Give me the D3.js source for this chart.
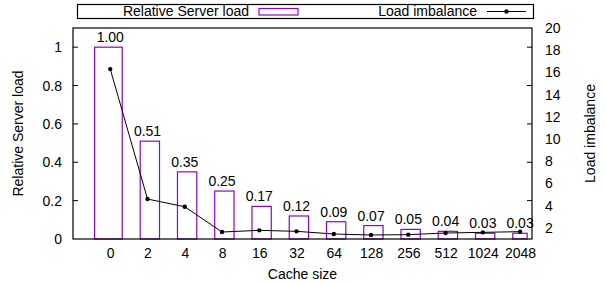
<!DOCTYPE html>
<html>
<head>
<meta charset="utf-8">
<script src="https://cdn.jsdelivr.net/npm/d3@7"></script>
<style>
  body { margin: 0; background: #fff; }
  svg { font-family: "Liberation Sans", Arial, sans-serif; font-size: 14px; }
  .bar { fill: none; stroke: #9400d3; stroke-width: 1.2; }
</style>
</head>
<body>
<svg width="605" height="283"></svg>
<script>
const cacheSizes = ['0', '2', '4', '8', '16', '32', '64', '128', '256', '512', '1024', '2048']
const serverLoad = [1.00, 0.51, 0.35, 0.25, 0.17, 0.12, 0.09, 0.07, 0.05, 0.04, 0.03, 0.03]
const imbalance = [16.3, 4.6, 3.9, 1.63, 1.78, 1.69, 1.45, 1.36, 1.39, 1.54, 1.6, 1.66]
const leftTicks = [0, 0.2, 0.4, 0.6, 0.8, 1]
const rightTicks = [2, 4, 6, 8, 10, 12, 14, 16, 18, 20]

const plot = {left: 73, right: 532, top: 28, bottom: 239}

const svg = d3.select('svg')

const xScale = d3.scaleLinear()
                 .domain([-1, 11.32])
                 .range([plot.left, plot.right])
const yScale = d3.scaleLinear()
                 .domain([0, 1.1])
                 .range([plot.bottom, plot.top])
const y2Scale = d3.scaleLinear()
                  .domain([1, 20])
                  .range([plot.bottom, plot.top])

// bars (gnuplot boxes are a bit lopsided, first and last differ)
const last = cacheSizes.length - 1
const barLeft = i => xScale(i - (i === 0 ? 0.42 : 0.196))
const barRight = i => xScale(i + (i === last ? 0.19 : 0.322))

svg.selectAll('.bar')
   .data(serverLoad)
   .enter()
   .append('rect')
   .classed('bar', true)
   .attr('x', (d, i) => barLeft(i))
   .attr('width', (d, i) => barRight(i) - barLeft(i))
   .attr('y', d => yScale(d))
   .attr('height', d => plot.bottom - yScale(d))

svg.selectAll('.bar-label')
   .data(serverLoad)
   .enter()
   .append('text')
   .attr('text-anchor', 'middle')
   .attr('x', (d, i) => xScale(i))
   .attr('y', d => yScale(d) - 5)
   .text(d => d.toFixed(2))

// imbalance line
const line = d3.line()
               .x((d, i) => xScale(i))
               .y(d => y2Scale(d))

svg.append('path')
   .datum(imbalance)
   .attr('d', line)
   .attr('fill', 'none')
   .attr('stroke', '#000')
   .attr('stroke-width', 1)

svg.selectAll('.pt')
   .data(imbalance)
   .enter()
   .append('circle')
   .attr('cx', (d, i) => xScale(i))
   .attr('cy', d => y2Scale(d))
   .attr('r', 2.2)
   .attr('fill', '#000')

// frame
svg.append('rect')
   .attr('x', plot.left).attr('y', plot.top)
   .attr('width', plot.right - plot.left)
   .attr('height', plot.bottom - plot.top)
   .attr('fill', 'none')
   .attr('stroke', '#000')
   .attr('stroke-width', 1.2)

// left axis, inward ticks mirrored on the right border
const yAxis = d3.axisLeft(yScale)
                .tickValues(leftTicks)
                .tickSize(0)
                .tickPadding(11)
                .tickFormat(d3.format('~g'))
const yAxisG = svg.append('g')
                  .attr('transform', `translate(${plot.left},0)`)
                  .call(yAxis)
yAxisG.select('.domain').remove()
yAxisG.selectAll('text').style('font-size', '14px').style('font-family', 'inherit').attr('fill', '#000')

svg.selectAll('.tick-in')
   .data(leftTicks.filter(d => d > 0))
   .enter()
   .append('g')
   .each(function (d) {
     const g = d3.select(this)
     g.append('line').attr('x1', plot.left).attr('x2', plot.left + 5)
      .attr('y1', yScale(d)).attr('y2', yScale(d)).attr('stroke', '#000')
     g.append('line').attr('x1', plot.right).attr('x2', plot.right - 5)
      .attr('y1', yScale(d)).attr('y2', yScale(d)).attr('stroke', '#000')
   })

// right axis labels (no ticks in the reference)
const y2Axis = d3.axisRight(y2Scale)
                 .tickValues(rightTicks)
                 .tickSize(0)
                 .tickPadding(13)
const y2AxisG = svg.append('g')
                   .attr('transform', `translate(${plot.right},0)`)
                   .call(y2Axis)
y2AxisG.select('.domain').remove()
y2AxisG.selectAll('text').style('font-size', '14px').style('font-family', 'inherit').attr('fill', '#000')

// x labels
const xAxis = d3.axisBottom(xScale)
                .tickValues(d3.range(cacheSizes.length))
                .tickFormat(i => cacheSizes[i])
                .tickSize(0)
                .tickPadding(9)
const xAxisG = svg.append('g')
                  .attr('transform', `translate(0,${plot.bottom})`)
                  .call(xAxis)
xAxisG.select('.domain').remove()
xAxisG.selectAll('text').style('font-size', '14px').style('font-family', 'inherit').attr('fill', '#000')

// axis titles
svg.append('text')
   .attr('x', (plot.left + plot.right) / 2)
   .attr('y', 279)
   .attr('text-anchor', 'middle')
   .text('Cache size')

svg.append('text')
   .attr('transform', `translate(23,${(plot.top + plot.bottom) / 2}) rotate(-90)`)
   .attr('text-anchor', 'middle')
   .text('Relative Server load')

svg.append('text')
   .attr('transform', `translate(595,${(plot.top + plot.bottom) / 2}) rotate(-90)`)
   .attr('text-anchor', 'middle')
   .text('Load imbalance')

// legend
const legend = svg.append('g')
legend.append('rect')
      .attr('x', 77.5).attr('y', 4.5)
      .attr('width', 456).attr('height', 14)
      .attr('fill', 'none')
      .attr('stroke', '#000')
      .attr('stroke-width', 1.2)
legend.append('text')
      .attr('x', 249).attr('y', 16)
      .attr('text-anchor', 'end')
      .text('Relative Server load')
legend.append('rect')
      .classed('bar', true)
      .attr('x', 259).attr('y', 8.5)
      .attr('width', 39).attr('height', 6.5)
legend.append('text')
      .attr('x', 477).attr('y', 16)
      .attr('text-anchor', 'end')
      .text('Load imbalance')
legend.append('line')
      .attr('x1', 487).attr('x2', 526)
      .attr('y1', 11.5).attr('y2', 11.5)
      .attr('stroke', '#000')
legend.append('circle')
      .attr('cx', 506.5).attr('cy', 11.5).attr('r', 2.2)
      .attr('fill', '#000')
</script>
</body>
</html>
